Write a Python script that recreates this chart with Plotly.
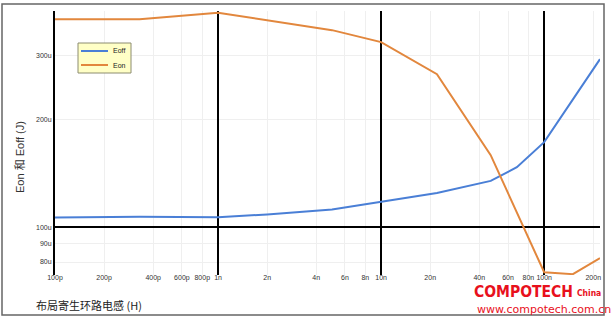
import plotly.graph_objects as go

# ---- data (inductance in H, energy in microjoules) ----
eoff_L = [100e-12, 330e-12, 1e-9, 2e-9, 5e-9, 10e-9, 22e-9, 47e-9, 68e-9, 100e-9, 220e-9]
eoff_uJ = [106.4, 107.0, 106.6, 108.5, 112.0, 117.6, 124.6, 134.6, 146.9, 172.5, 293.8]

eon_L = [100e-12, 330e-12, 1e-9, 5e-9, 10e-9, 22e-9, 47e-9, 100e-9, 150e-9, 220e-9]
eon_uJ = [379.7, 379.7, 395.8, 353.8, 327.6, 266.8, 158.7, 74.9, 74.0, 82.0]

x_tickvals = [100e-12, 200e-12, 400e-12, 600e-12, 800e-12, 1e-9, 2e-9, 4e-9, 6e-9, 8e-9,
              10e-9, 20e-9, 40e-9, 60e-9, 80e-9, 100e-9, 200e-9]
x_ticktext = ["100p", "200p", "400p", "600p", "800p", "1n", "2n", "4n", "6n", "8n",
              "10n", "20n", "40n", "60n", "80n", "100n", "200n"]
y_tickvals = [80e-6, 90e-6, 100e-6, 200e-6, 300e-6]
y_ticktext = ["80u", "90u", "100u", "200u", "300u"]
x_major = [1e-9, 10e-9, 100e-9]
y_major = [100e-6]
series_names = ["Eoff", "Eon"]

x_range = [-10, -6.6576]
y_range = [-4.1331, -3.3979]

BLUE = "#4a7fd6"
ORANGE = "#e2873d"
colors = [BLUE, ORANGE]

fig = go.Figure()
fig.add_trace(go.Scatter(x=eoff_L, y=[v * 1e-6 for v in eoff_uJ], mode="lines", name=series_names[0],
                         line=dict(color=BLUE, width=2), showlegend=False))
fig.add_trace(go.Scatter(x=eon_L, y=[v * 1e-6 for v in eon_uJ], mode="lines", name=series_names[1],
                         line=dict(color=ORANGE, width=2), showlegend=False))
# dummy trace to activate the overlay axes carrying the bold decade lines
fig.add_trace(go.Scatter(x=[None], y=[None], xaxis="x2", yaxis="y2", showlegend=False,
                         hoverinfo="skip", mode="lines"))

tickfont = dict(family="Liberation Sans, Arial, sans-serif", size=7, color="#333")

fig.update_layout(
    width=612, height=319,
    margin=dict(l=55, r=12, t=11, b=44),
    paper_bgcolor="white", plot_bgcolor="white",
    showlegend=False,
    xaxis=dict(type="log", range=x_range, tickmode="array", tickvals=x_tickvals,
               ticktext=x_ticktext, showgrid=True, gridcolor="#efefef", gridwidth=1,
               zeroline=False, showline=False, ticks="", tickfont=tickfont,
               ticklabelstandoff=-3),
    yaxis=dict(type="log", range=y_range, tickmode="array", tickvals=y_tickvals,
               ticktext=y_ticktext, showgrid=True, gridcolor="#efefef", gridwidth=1,
               zeroline=False, showline=True, linecolor="black", linewidth=2,
               ticks="", tickfont=tickfont),
    xaxis2=dict(type="log", range=x_range, overlaying="x", anchor="y2", tickmode="array",
                tickvals=x_major, showticklabels=False, showgrid=True, gridcolor="black",
                gridwidth=2, zeroline=False, showline=False, ticks=""),
    yaxis2=dict(type="log", range=y_range, overlaying="y", anchor="x2", tickmode="array",
                tickvals=y_major, showticklabels=False, showgrid=True, gridcolor="black",
                gridwidth=2, zeroline=False, showline=False, ticks=""),
)

def px(xp):
    return (xp - 55) / 545

def py(yp):
    return (275 - yp) / 264

# outer frame
fig.add_shape(type="rect", xref="paper", yref="paper",
              x0=px(2), x1=px(604), y0=py(315), y1=py(4),
              line=dict(color="#666", width=1.5), fillcolor="rgba(0,0,0,0)", layer="below")

# compact legend box (drawn manually)
fig.add_shape(type="rect", xref="paper", yref="paper",
              x0=px(78), x1=px(131), y0=py(73), y1=py(43),
              line=dict(color="#8c8c70", width=1), fillcolor="#ffffc6", layer="above")
for i, (nm, col) in enumerate(zip(series_names, colors)):
    yy = 51 + 14 * i
    fig.add_shape(type="line", xref="paper", yref="paper",
                  x0=px(81), x1=px(108), y0=py(yy), y1=py(yy),
                  line=dict(color=col, width=2), layer="above")
    fig.add_annotation(text=nm, xref="paper", yref="paper", x=px(111), y=py(yy),
                       showarrow=False, xanchor="left", yanchor="middle",
                       font=dict(family="Liberation Sans, Arial, sans-serif", size=7, color="#222"))

# axis titles
fig.add_annotation(text="Eon 和 Eoff (J)", xref="paper", yref="paper",
                   x=px(20), y=py(157), textangle=-90,
                   showarrow=False, xanchor="center", yanchor="middle",
                   font=dict(family="Liberation Sans, Noto Sans CJK SC, sans-serif", size=11, color="#333"))
fig.add_annotation(text="布局寄生环路电感 (H)", xref="paper", yref="paper",
                   x=px(34), y=py(305), showarrow=False,
                   xanchor="left", yanchor="middle",
                   font=dict(family="Noto Sans CJK SC, sans-serif", size=11, color="#222"))

# watermark
fig.add_annotation(text="<b>COMPOTECH</b>", xref="paper", yref="paper",
                   x=px(472), y=py(292), showarrow=False,
                   xanchor="left", yanchor="middle",
                   font=dict(family="DejaVu Sans Condensed, Liberation Sans, sans-serif",
                             size=15.5, color="#e8101c"))
fig.add_annotation(text="<b>China</b>", xref="paper", yref="paper",
                   x=px(575), y=py(293), showarrow=False,
                   xanchor="left", yanchor="middle",
                   font=dict(family="DejaVu Sans Condensed, Liberation Sans, sans-serif",
                             size=8.5, color="#e8101c"))
fig.add_annotation(text="www.compotech.com.cn", xref="paper", yref="paper",
                   x=px(475), y=py(309), showarrow=False,
                   xanchor="left", yanchor="middle",
                   font=dict(family="DejaVu Sans, sans-serif", size=11, color="#e8101c"))

fig.write_html("out.html")
